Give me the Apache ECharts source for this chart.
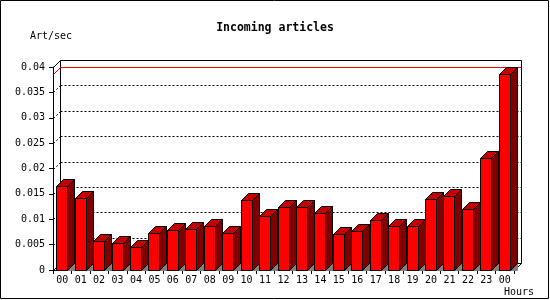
<!DOCTYPE html>
<html>
<head>
<meta charset="utf-8">
<script src="https://cdn.jsdelivr.net/npm/echarts@6/dist/echarts.min.js"></script>
<style>
html,body{margin:0;padding:0;background:#fff;}
#c{width:550px;height:300px;}
</style>
</head>
<body>
<div id="c"></div>
<script>
const hours = ['00','01','02','03','04','05','06','07','08','09','10','11','12','13','14','15','16','17','18','19','20','21','22','23','00'];
const values = [0.0166,0.0142,0.0057,0.0053,0.0045,0.0073,0.0079,0.0080,0.0086,0.0073,0.0138,0.0106,0.0124,0.0124,0.0112,0.0071,0.0077,0.0098,0.0086,0.0086,0.0140,0.0146,0.0120,0.0221,0.0387];
const yMin = 0, yMax = 0.04, yStep = 0.005;
const titleText = 'Incoming articles';
const yName = 'Art/sec';
const xName = 'Hours';

const D = 7;      // depth offset (px)
const W = 11;     // bar face width (px)
const FONT = 'DejaVu Sans Mono';

const chart = echarts.init(document.getElementById('c'), null, {renderer:'canvas'});
const maxVal = Math.max.apply(null, values);

function wallRender(params, api) {
  const cs = params.coordSys;
  const L = Math.round(cs.x) + 0.5;
  const R = Math.round(cs.x + cs.width) + 0.5;
  const yOf = v => Math.round(api.coord([0, v])[1]) + 0.5;
  const T = yOf(yMax), B = yOf(yMin);
  const ch = [];
  ch.push({type:'rect', shape:{x:L+D, y:T-D, width:R-L, height:B-T}, style:{fill:'#fff', stroke:'#000', lineWidth:1}});
  for (let v = yMin + yStep; v < yMax - 1e-9; v += yStep) {
    const y = yOf(v);
    ch.push({type:'line', shape:{x1:L+D, y1:y-D, x2:R+D, y2:y-D}, style:{stroke:'#000', lineWidth:1, lineDash:[2,2]}});
    ch.push({type:'line', shape:{x1:L, y1:y, x2:L+D, y2:y-D}, style:{stroke:'#000', lineWidth:1, lineDash:[2,2]}});
  }
  ch.push({type:'line', shape:{x1:L, y1:B, x2:L+D, y2:B-D}, style:{stroke:'#000', lineWidth:1}});
  ch.push({type:'line', shape:{x1:R, y1:B, x2:R+D, y2:B-D}, style:{stroke:'#000', lineWidth:1}});
  ch.push({type:'line', shape:{x1:L, y1:T, x2:L+D, y2:T-D}, style:{stroke:'#000', lineWidth:1}});
  const ym = yOf(maxVal);
  ch.push({type:'polyline', shape:{points:[[L, ym], [L+D, ym-D], [R+D, ym-D]]}, style:{stroke:'#ff0000', lineWidth:1, fill:null}});
  return {type:'group', children:ch};
}

function barRender(params, api) {
  const i = api.value(0), v = api.value(1);
  const top = api.coord([i, v]);
  const base = api.coord([i, 0]);
  const x0 = Math.round(top[0] - 6) + 0.5;
  const yT = Math.round(top[1]) + 0.5;
  const yB = Math.round(base[1]) + 0.5;
  return {type:'group', children:[
    {type:'polygon', shape:{points:[[x0+W, yB], [x0+W+D, yB-D], [x0+W+D, yB]]}, style:{fill:'#808080', stroke:'#808080', lineWidth:1}},
    {type:'polygon', shape:{points:[[x0+W, yT], [x0+W+D, yT-D], [x0+W+D, yB-D], [x0+W, yB]]}, style:{fill:'#800000', stroke:'#000', lineWidth:1}},
    {type:'polygon', shape:{points:[[x0, yT], [x0+D, yT-D], [x0+W+D, yT-D], [x0+W, yT]]}, style:{fill:'#c40000', stroke:'#000', lineWidth:1}},
    {type:'rect', shape:{x:x0, y:yT, width:W, height:yB-yT}, style:{fill:'#ff0000', stroke:'#000', lineWidth:1}}
  ]};
}

chart.setOption({
  animation:false,
  backgroundColor:'#fff',
  title:{
    text:titleText, left:'center', top:17,
    textStyle:{fontFamily:FONT, fontSize:11.5, fontWeight:'bold', color:'#000'}
  },
  grid:{left:53, right:36, top:67, bottom:30, containLabel:false},
  xAxis:{
    type:'category', data:hours, boundaryGap:true,
    axisLine:{show:true, lineStyle:{color:'#000', width:1}},
    axisTick:{show:true, length:4, lineStyle:{color:'#000'}},
    axisLabel:{color:'#000', fontFamily:FONT, fontSize:10, margin:5, interval:0},
    splitLine:{show:false}
  },
  yAxis:{
    type:'value', min:yMin, max:yMax, interval:yStep,
    axisLine:{show:true, lineStyle:{color:'#000', width:1}},
    axisTick:{show:true, length:4, lineStyle:{color:'#000'}},
    axisLabel:{color:'#000', fontFamily:FONT, fontSize:10, margin:8},
    splitLine:{show:false}
  },
  graphic:[
    {type:'rect', shape:{x:0.5, y:0.5, width:548, height:298}, style:{fill:null, stroke:'#000', lineWidth:1}, z:100},
    {type:'text', left:30, top:31, style:{text:yName, fontFamily:FONT, fontSize:10, fill:'#000'}},
    {type:'text', left:504, top:287, style:{text:xName, fontFamily:FONT, fontSize:10, fill:'#000'}}
  ],
  series:[
    {type:'custom', renderItem:wallRender, data:[[0,0]], z:1, silent:true},
    {type:'custom', renderItem:barRender, data:values.map((v,i)=>[i,v]), encode:{x:0, y:1}, z:2}
  ]
});
</script>
</body>
</html>
